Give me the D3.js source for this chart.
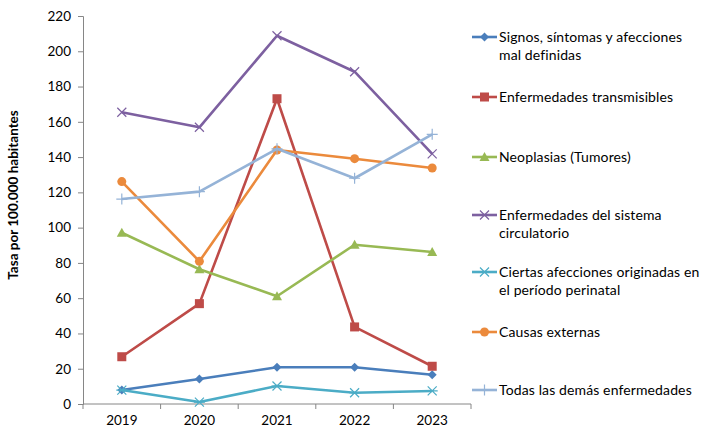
<!DOCTYPE html>
<html>
<head>
<meta charset="utf-8">
<script src="https://cdn.jsdelivr.net/npm/d3@7"></script>
<style>
  body { margin: 0; background: #fff; }
  svg { display: block; font-family: Lato, "Open Sans", sans-serif; }
</style>
</head>
<body>
<svg id="chart" width="702" height="427"></svg>
<script>
// Data
const years = ['2019', '2020', '2021', '2022', '2023'];
const signos = [7.9, 14.2, 20.8, 20.8, 16.6];
const transmisibles = [26.8, 56.9, 173.1, 43.7, 21.4];
const neoplasias = [97.1, 76.4, 61.1, 90.3, 86.2];
const circulatorio = [165.4, 156.9, 208.8, 188.4, 141.8];
const perinatal = [7.9, 1.1, 10.2, 6.4, 7.4];
const externas = [126.1, 80.9, 144.0, 139.1, 133.8];
const demas = [116.2, 120.4, 144.7, 128.0, 152.9];
const yTicks = [0, 20, 40, 60, 80, 100, 120, 140, 160, 180, 200, 220];

const series = [
  { lines: ['Signos, síntomas y afecciones', 'mal definidas'], values: signos, color: '#4A7EBB', marker: 'diamond', ly: 37 },
  { lines: ['Enfermedades transmisibles'], values: transmisibles, color: '#BE4B48', marker: 'square', ly: 97 },
  { lines: ['Neoplasias (Tumores)'], values: neoplasias, color: '#98B954', marker: 'triangle', ly: 157 },
  { lines: ['Enfermedades del sistema', 'circulatorio'], values: circulatorio, color: '#7D60A0', marker: 'x', ly: 215 },
  { lines: ['Ciertas afecciones originadas en', 'el período perinatal'], values: perinatal, color: '#4BACC6', marker: 'star', ly: 272 },
  { lines: ['Causas externas'], values: externas, color: '#EB8A3C', marker: 'circle', ly: 332 },
  { lines: ['Todas las demás enfermedades'], values: demas, color: '#95B3D7', marker: 'plus', ly: 390 }
];

const svg = d3.select('#chart');
const plotLeft = 83, plotRight = 471, plotTop = 16, plotBottom = 404;
const axisColor = '#868686';

const x = d3.scaleBand().domain(years).range([plotLeft, plotRight]);
const y = d3.scaleLinear().domain([0, 220]).range([plotBottom, plotTop]);

// Y axis
const yAxis = svg.append('g').attr('transform', `translate(${plotLeft},0)`)
  .call(d3.axisLeft(y).tickValues(yTicks).tickSize(5).tickPadding(7));
yAxis.select('.domain').attr('stroke', axisColor);
yAxis.selectAll('.tick line').attr('stroke', axisColor);
yAxis.selectAll('.tick text').attr('font-size', 13.5).attr('fill', '#000')
  .attr('font-family', 'Lato, sans-serif');

// X axis (ticks between categories, Excel style)
const xAxis = svg.append('g').attr('transform', `translate(0,${plotBottom})`)
  .call(d3.axisBottom(x).tickSize(0).tickPadding(11));
xAxis.select('.domain').attr('stroke', axisColor).attr('d', `M${plotLeft},0H${plotRight}`);
xAxis.selectAll('.tick text').attr('font-size', 13.5).attr('fill', '#000')
  .attr('font-family', 'Lato, sans-serif');
const edges = years.map(d => x(d)).concat([plotRight]);
xAxis.selectAll('.edge').data(edges).enter().append('line')
  .attr('x1', d => d).attr('x2', d => d).attr('y1', 0).attr('y2', 5)
  .attr('stroke', axisColor);

// Y title
svg.append('text')
  .attr('transform', `translate(18,195) rotate(-90)`)
  .attr('text-anchor', 'middle')
  .attr('font-size', 13.5).attr('font-weight', 'bold')
  .text('Tasa por 100.000 habitantes');

const cx = d => x(d) + x.bandwidth() / 2;

function drawMarker(g, type, color) {
  if (type === 'diamond') {
    g.append('path').attr('d', 'M0,-4.5L4.5,0L0,4.5L-4.5,0Z').attr('fill', color);
  } else if (type === 'square') {
    g.append('rect').attr('x', -4.5).attr('y', -4.5).attr('width', 9).attr('height', 9).attr('fill', color);
  } else if (type === 'triangle') {
    g.append('path').attr('d', 'M0,-5L5,4L-5,4Z').attr('fill', color);
  } else if (type === 'circle') {
    g.append('circle').attr('r', 4.5).attr('fill', color);
  } else if (type === 'x') {
    g.append('path').attr('d', 'M-4.5,-4.5L4.5,4.5M-4.5,4.5L4.5,-4.5').attr('stroke', color).attr('stroke-width', 1.2);
  } else if (type === 'star') {
    g.append('path').attr('d', 'M-4.5,-4.5L4.5,4.5M-4.5,4.5L4.5,-4.5M-5.5,0H5.5')
      .attr('stroke', color).attr('stroke-width', 1.2);
  } else if (type === 'plus') {
    g.append('path').attr('d', 'M0,-5.5V5.5M-5.5,0H5.5').attr('stroke', color).attr('stroke-width', 1.2);
  }
}

const line = d3.line().x((d, i) => cx(years[i])).y(d => y(d));

series.forEach(s => {
  svg.append('path').datum(s.values)
    .attr('d', line).attr('fill', 'none')
    .attr('stroke', s.color).attr('stroke-width', 2.6).attr('stroke-linejoin', 'round');
  s.values.forEach((v, i) => {
    const g = svg.append('g').attr('transform', `translate(${cx(years[i])},${y(v)})`);
    drawMarker(g, s.marker, s.color);
  });
});

// Legend
series.forEach(s => {
  const g = svg.append('g').attr('transform', `translate(472,${s.ly})`);
  g.append('line').attr('x1', 0).attr('x2', 25).attr('stroke', s.color).attr('stroke-width', 2.6);
  drawMarker(g.append('g').attr('transform', 'translate(12.5,0)'), s.marker, s.color);
  s.lines.forEach((t, k) => {
    g.append('text').attr('x', 27).attr('y', k * 18).attr('dy', '0.35em')
      .attr('font-size', 14).attr('letter-spacing', 0.12).attr('fill', '#000').text(t);
  });
});
</script>
</body>
</html>
